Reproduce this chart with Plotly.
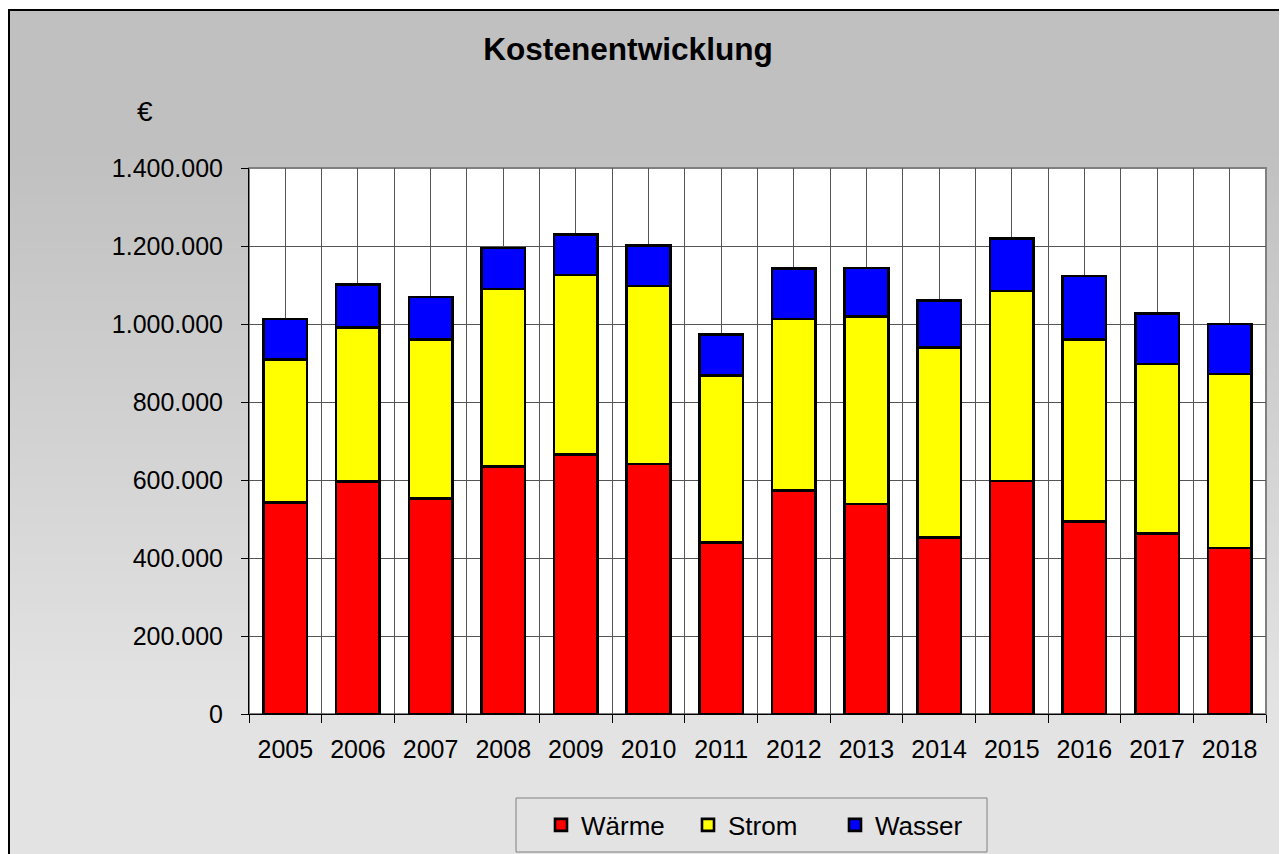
import plotly.graph_objects as go

# Kostenentwicklung 2005-2018, stacked bars (values in EUR)
years = [2005, 2006, 2007, 2008, 2009, 2010, 2011, 2012, 2013, 2014, 2015, 2016, 2017, 2018]
waerme = [542000, 596000, 552000, 634000, 666000, 641000, 440000,
          573000, 538000, 452000, 597000, 494000, 463000, 426000]
strom = [367000, 395000, 409000, 456000, 460000, 456000, 428000,
         440000, 482000, 488000, 488000, 467000, 434000, 446000]
wasser = [104000, 110000, 108000, 105000, 103000, 104000, 105000,
          130000, 124000, 121000, 135000, 162000, 130000, 128000]

series = [("Wärme", waerme, "#ff0000"), ("Strom", strom, "#ffff00"), ("Wasser", wasser, "#0000ff")]

W, H = 1287, 854
OFF = 8  # page body margin around the plot div
PL, PR, PT, PB = 249, 1266, 168, 714  # plot area in page pixels
FONT = "Arial, Liberation Sans, sans-serif"


def px_x(p):
  return (p - PL) / (PR - PL)


def px_y(p):
  return (PB - p) / (PB - PT)


fig = go.Figure()
for name, vals, color in series:
  fig.add_trace(go.Bar(x=years, y=vals, name=name, width=0.6,
                       marker=dict(color=color, line=dict(color="black", width=2.6))))

shapes = []
# grey gradient background of the chart frame (darker at top)
for py in range(8, 870, 6):
  t = min(max((py - 150) / 550, 0), 1)
  v = round(192 + t * 35)
  shapes.append(dict(type="rect", xref="paper", yref="paper", layer="below",
                     x0=px_x(OFF), x1=px_x(1310), y0=px_y(py + 7), y1=px_y(max(py, 10)),
                     fillcolor=f"rgb({v},{v},{v})", line=dict(width=0)))
# outer frame
shapes.append(dict(type="rect", xref="paper", yref="paper", layer="below",
                   x0=px_x(OFF + 1), x1=px_x(1310), y0=px_y(880), y1=px_y(10),
                   fillcolor="rgba(0,0,0,0)", line=dict(color="black", width=2)))
# white plot area with grey border
shapes.append(dict(type="rect", xref="paper", yref="paper", layer="below",
                   x0=0, x1=1, y0=0, y1=1, fillcolor="white",
                   line=dict(color="#808080", width=2)))
# legend box
shapes.append(dict(type="rect", xref="paper", yref="paper", layer="below",
                   x0=px_x(516), x1=px_x(987), y0=px_y(852), y1=px_y(798),
                   fillcolor="rgba(0,0,0,0)", line=dict(color="#808080", width=1)))

fig.update_layout(
  width=W, height=H,
  margin=dict(l=PL - OFF, r=W - (PR - OFF), t=PT - OFF, b=H - (PB - OFF)),
  barmode="stack",
  separators=",.",
  paper_bgcolor="white",
  plot_bgcolor="rgba(0,0,0,0)",
  font=dict(family=FONT, size=25, color="black"),
  shapes=shapes,
  title=dict(text="<b>Kostenentwicklung</b>", x=(628 - OFF) / W, xanchor="center",
             y=1 - (49 - OFF) / H, yanchor="middle", yref="container",
             font=dict(family=FONT, size=31.6, color="black")),
  annotations=[dict(text="€", xref="paper", yref="paper", x=px_x(145), y=px_y(112),
                    showarrow=False, xanchor="center", yanchor="middle",
                    font=dict(family=FONT, size=28, color="black"))],
  legend=dict(orientation="h", traceorder="normal",
              x=px_x(541), xanchor="left", y=px_y(825), yanchor="middle",
              bgcolor="rgba(0,0,0,0)", borderwidth=0, entrywidth=102,
              font=dict(family=FONT, size=26, color="black")),
  showlegend=True,
)

fig.update_yaxes(range=[0, 1400000], dtick=200000, tick0=0, tickformat=",d",
                 showgrid=True, gridcolor="#555555", gridwidth=1,
                 showline=True, linecolor="black", linewidth=1,
                 ticks="outside", ticklen=7, tickcolor="black",
                 ticklabelstandoff=13, zeroline=False)

fig.update_xaxes(range=[2004.5, 2018.5], tickmode="array", tickvals=years,
                 ticktext=[str(y) for y in years],
                 showgrid=True, gridcolor="#555555", gridwidth=1,
                 showline=True, linecolor="black", linewidth=1,
                 ticks="", ticklabelstandoff=13, zeroline=False,
                 minor=dict(tick0=2004.5, dtick=1, ticks="outside", ticklen=8,
                            tickcolor="black", showgrid=True, gridcolor="#555555",
                            gridwidth=1))

fig.write_html("out.html")
